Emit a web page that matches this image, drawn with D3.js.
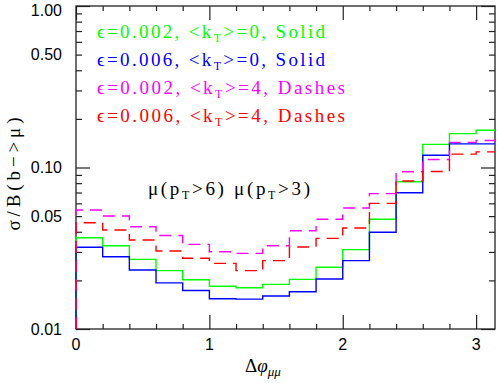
<!doctype html>
<html>
<head>
<meta charset="utf-8">
<title>sigma / B(b->mu) vs delta phi</title>
<style>
  body { margin: 0; background: #fff; }
  svg { display: block; }
  .lbl { font-family: "Liberation Sans", Arial, sans-serif; font-size: 16px; fill: #000; }
  .serif { font-family: "Liberation Serif", "Times New Roman", serif; }
  .axis path { display: none; }
  .axis line { stroke: #222; stroke-width: 1.2px; }
</style>
</head>
<body>
<script src="https://d3js.org/d3.v7.min.js"></script>
<script>
// bin lower edges in delta phi (width 0.2), last bin runs to pi
var binStart = [0.0, 0.2, 0.4, 0.6, 0.8, 1.0, 1.2, 1.4, 1.6, 1.8, 2.0, 2.2, 2.4, 2.6, 2.8, 3.0];

var eps002kt0 = [0.0367, 0.0328, 0.0270, 0.0230, 0.0202, 0.0184, 0.0180, 0.0189, 0.0203, 0.0241, 0.0310, 0.0478, 0.0817, 0.139, 0.162, 0.170];
var eps006kt0 = [0.0321, 0.0280, 0.0232, 0.0193, 0.0173, 0.0154, 0.0153, 0.0160, 0.0170, 0.0204, 0.0265, 0.0397, 0.0698, 0.119, 0.140, 0.140];
var eps002kt4 = [0.0546, 0.0501, 0.0430, 0.0379, 0.0334, 0.0301, 0.0294, 0.0328, 0.0406, 0.0478, 0.0561, 0.0689, 0.0942, 0.112, 0.143, 0.147];
var eps006kt4 = [0.0455, 0.0410, 0.0356, 0.0304, 0.0274, 0.0255, 0.0230, 0.0265, 0.0322, 0.0364, 0.0422, 0.0600, 0.0825, 0.0945, 0.121, 0.125];

var series = [
  { vals: eps002kt0, color: "#00ff00", dash: null, eps: "0.002", kt: "0", style: "Solid" },
  { vals: eps006kt0, color: "#0000ff", dash: null, eps: "0.006", kt: "0", style: "Solid" },
  { vals: eps002kt4, color: "#ff00ff", dash: "12,7", eps: "0.002", kt: "4", style: "Dashes" },
  { vals: eps006kt4, color: "#ff0000", dash: "12,7", eps: "0.006", kt: "4", style: "Dashes" }
];

var yLabels = [0.01, 0.05, 0.1, 0.5, 1];
var xLabels = [0, 1, 2, 3];

var W = 498, H = 383;
var pl = 76, pr = 495, pt = 6, pb = 329;

var svg = d3.select("body").append("svg")
  .attr("width", W)
  .attr("height", H);

var x = d3.scaleLinear().domain([0, Math.PI]).range([pl, pr]);
var y = d3.scaleLog().domain([0.01, 1]).range([pb, pt]);

// log ticks
var yMinor = [], yMajor = [0.01, 0.1, 1];
[0.01, 0.1].forEach(function(d) {
  for (var k = 2; k <= 9; k++) yMinor.push(+(d * k).toFixed(3));
});
var xMinor = [], xMajor = [0, 1, 2, 3];
for (var i = 1; i <= 15; i++) if (i % 5) xMinor.push(+(i * 0.2).toFixed(1));

function addAxis(axis, tx, ty) {
  svg.append("g").attr("class", "axis")
    .attr("transform", "translate(" + tx + "," + ty + ")")
    .call(axis.tickFormat(""));
}

addAxis(d3.axisLeft(y).tickValues(yMinor).tickSize(-6), pl, 0);
addAxis(d3.axisLeft(y).tickValues(yMajor).tickSize(-14), pl, 0);
addAxis(d3.axisRight(y).tickValues(yMinor).tickSize(-6), pr, 0);
addAxis(d3.axisRight(y).tickValues(yMajor).tickSize(-14), pr, 0);
addAxis(d3.axisBottom(x).tickValues(xMinor).tickSize(-5), 0, pb);
addAxis(d3.axisBottom(x).tickValues(xMajor).tickSize(-14), 0, pb);
addAxis(d3.axisTop(x).tickValues(xMinor).tickSize(-5), 0, pt);
addAxis(d3.axisTop(x).tickValues(xMajor).tickSize(-14), 0, pt);

svg.append("rect")
  .attr("x", pl).attr("y", pt)
  .attr("width", pr - pl).attr("height", pb - pt)
  .attr("fill", "none").attr("stroke", "#222").attr("stroke-width", 1.3);

// tick labels (top one nudged down so it stays inside the picture)
svg.selectAll(".ylab").data(yLabels).enter().append("text")
  .attr("class", "lbl")
  .attr("x", pl - 14)
  .attr("y", function(d) { return Math.max(y(d), 10); })
  .attr("dy", "0.36em")
  .attr("text-anchor", "end")
  .text(function(d) { return d3.format(".2f")(d); });

svg.selectAll(".xlab").data(xLabels).enter().append("text")
  .attr("class", "lbl")
  .attr("x", function(d) { return x(d); })
  .attr("y", pb + 21)
  .attr("text-anchor", "middle")
  .text(function(d) { return d; });

// histograms
svg.append("clipPath").attr("id", "plot")
  .append("rect")
  .attr("x", pl - 1).attr("y", pt)
  .attr("width", pr - pl + 1).attr("height", pb - pt);

var line = d3.line()
  .x(function(d) { return x(d[0]); })
  .y(function(d) { return y(d[1]); })
  .curve(d3.curveStepAfter);

series.forEach(function(s) {
  var pts = [[0, 0.01]];
  s.vals.forEach(function(v, i) { pts.push([binStart[i], v]); });
  pts.push([Math.PI, s.vals[s.vals.length - 1]]);
  svg.append("path")
    .datum(pts)
    .attr("clip-path", "url(#plot)")
    .attr("fill", "none")
    .attr("stroke", s.color)
    .attr("stroke-width", 1.4)
    .attr("stroke-dasharray", s.dash)
    .attr("d", line);
});

// legend text
series.forEach(function(s, i) {
  var t = svg.append("text")
    .attr("class", "serif")
    .attr("x", 97)
    .attr("y", 38 + i * 28)
    .attr("font-size", 19)
    .attr("fill", s.color)
    .attr("textLength", s.style === "Solid" ? 228 : 248)
    .attr("lengthAdjust", "spacing");
  t.append("tspan").text("\u03f5=" + s.eps + ",  <k");
  t.append("tspan").attr("font-size", 12).attr("dy", 4).text("T");
  t.append("tspan").attr("dy", -4).text(">=" + s.kt + ",  " + s.style);
});

// cut annotation
var m = svg.append("text")
  .attr("class", "serif")
  .attr("x", 148).attr("y", 195)
  .attr("font-size", 19)
  .attr("textLength", 162)
  .attr("lengthAdjust", "spacing");
m.append("tspan").text("\u03bc(p");
m.append("tspan").attr("font-size", 12).attr("dy", 4).text("T");
m.append("tspan").attr("dy", -4).text(">6)  \u03bc(p");
m.append("tspan").attr("font-size", 12).attr("dy", 4).text("T");
m.append("tspan").attr("dy", -4).text(">3)");

// axis titles
svg.append("text")
  .attr("class", "serif")
  .attr("transform", "translate(20,174) rotate(-90)")
  .attr("text-anchor", "middle")
  .attr("font-size", 19)
  .attr("textLength", 113)
  .attr("lengthAdjust", "spacing")
  .text("\u03c3/B(b\u2212>\u03bc)");

var xt = svg.append("text")
  .attr("class", "serif")
  .attr("x", 245).attr("y", 372)
  .attr("font-size", 19);
xt.append("tspan").text("\u0394");
xt.append("tspan").attr("font-style", "italic").text("\u03c6");
xt.append("tspan").attr("font-style", "italic").attr("font-size", 13).attr("dy", 4).text("\u03bc\u03bc");
</script>
</body>
</html>
